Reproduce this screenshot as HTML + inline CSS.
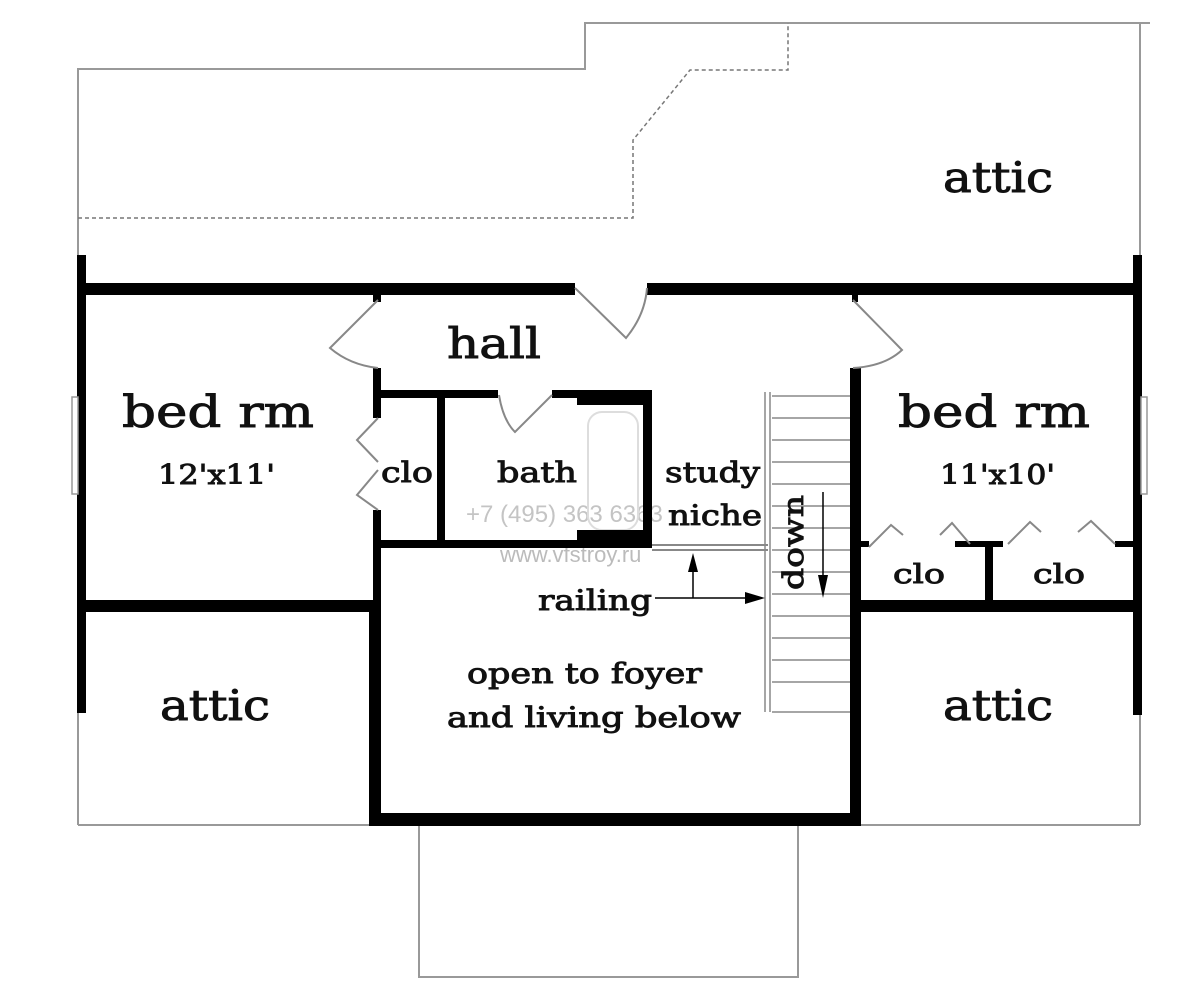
<!DOCTYPE html>
<html><head><meta charset="utf-8"><style>
html,body{margin:0;padding:0;background:#fff;width:1200px;height:993px;overflow:hidden}
svg{display:block}
text.l{font-family:"DejaVu Serif","Liberation Serif",serif;fill:#111;stroke:#111;stroke-width:0.9}
</style></head><body>
<svg width="1200" height="993" viewBox="0 0 1200 993" xmlns="http://www.w3.org/2000/svg">
<g stroke="#999" stroke-width="2" fill="none">
<polyline points="78,825 78,69 585,69 585,23 1150,23"/>
<line x1="1140" y1="23" x2="1140" y2="825"/>
<line x1="78" y1="825" x2="372" y2="825"/>
<line x1="860" y1="825" x2="1140" y2="825"/>
<polyline points="419,825 419,977 798,977 798,825"/>
</g>
<polyline points="78,218 633,218 633,140 690,70 788,70 788,23" stroke="#777" stroke-width="1.5" stroke-dasharray="4,3" fill="none"/>
<g style="font-family:'Liberation Sans',sans-serif" fill="#c4c4c4">
<text x="466" y="522" font-size="24">+7 (495) 363 6363</text>
<text x="500" y="562" font-size="22" fill="#bbb">www.vfstroy.ru</text>
</g>
<rect x="588" y="412" width="50" height="118" rx="14" fill="none" stroke="#ddd" stroke-width="2"/>
<g fill="#000">
<rect x="77" y="283" width="498" height="12"/>
<rect x="647" y="283" width="494" height="12"/>
<rect x="77" y="255" width="9" height="458"/>
<rect x="1133" y="255" width="9" height="460"/>
<rect x="77" y="600" width="304" height="12"/>
<rect x="373" y="294" width="8" height="8"/>
<rect x="373" y="368" width="8" height="50"/>
<rect x="373" y="510" width="8" height="100"/>
<rect x="369" y="605" width="12" height="221"/>
<rect x="369" y="813" width="492" height="13"/>
<rect x="850" y="368" width="11" height="458"/>
<rect x="852" y="294" width="6" height="8"/>
<rect x="855" y="600" width="287" height="12"/>
<rect x="985" y="541" width="8" height="64"/>
<rect x="855" y="541" width="14" height="6"/>
<rect x="955" y="541" width="48" height="6"/>
<rect x="1115" y="541" width="22" height="6"/>
<rect x="378" y="390" width="120" height="8"/>
<rect x="552" y="390" width="100" height="8"/>
<rect x="577" y="390" width="75" height="15"/>
<rect x="643" y="390" width="9" height="158"/>
<rect x="378" y="540" width="274" height="8"/>
<rect x="577" y="530" width="75" height="18"/>
<rect x="437" y="390" width="8" height="158"/>
</g>
<g stroke="#888" stroke-width="2" fill="none">
<path d="M378,300 L330,348 Q350,365 378,368"/>
<path d="M575,288 L626,338 Q645,315 647,288"/>
<path d="M853,300 L902,350 Q885,366 853,368"/>
<path d="M499,395 Q503,420 515,432 L552,395"/>
<path d="M378,418 L357,440 L378,462"/>
<path d="M378,470 L357,495 L378,510"/>
<path d="M869,547 L891,525 L903,535"/>
<path d="M940,535 L952,523 L970,544"/>
<path d="M1008,544 L1030,522 L1041,532"/>
<path d="M1078,532 L1091,521 L1115,544"/>
<line x1="652" y1="545" x2="768" y2="545"/>
<line x1="652" y1="550" x2="768" y2="550"/>
</g>
<g stroke="#999" stroke-width="1.5" fill="#fff">
<rect x="72" y="397" width="6" height="97"/>
<rect x="1141" y="397" width="6" height="97"/>
</g>
<g stroke="#888" stroke-width="1.5" fill="none">
<line x1="765" y1="392" x2="765" y2="712"/>
<line x1="770" y1="392" x2="770" y2="712"/>
<path d="M772,396H850M772,418H850M772,440H850M772,462H850M772,484H850M772,506H850M772,528H850M772,550H850M772,572H850M772,594H850M772,616H850M772,638H850M772,660H850M772,682H850M772,712H850"/>
<line x1="823" y1="492" x2="823" y2="590" stroke="#000"/>
</g>
<polygon points="818,575 828,575 823,598" fill="#000"/>
<g stroke="#000" stroke-width="1.5">
<line x1="655" y1="598" x2="748" y2="598"/>
<line x1="693" y1="560" x2="693" y2="598"/>
</g>
<polygon points="745,592 765,598 745,604" fill="#000"/>
<polygon points="688,572 693,553 698,572" fill="#000"/>
<g>
<text class="l" x="943" y="192" font-size="42" textLength="110" lengthAdjust="spacingAndGlyphs">attic</text>
<text class="l" x="447" y="358" font-size="42" textLength="94" lengthAdjust="spacingAndGlyphs">hall</text>
<text class="l" x="122" y="427" font-size="44" textLength="192" lengthAdjust="spacingAndGlyphs">bed rm</text>
<text class="l" x="158" y="484" font-size="27" textLength="117" lengthAdjust="spacingAndGlyphs">12'x11'</text>
<text class="l" x="898" y="427" font-size="44" textLength="192" lengthAdjust="spacingAndGlyphs">bed rm</text>
<text class="l" x="940" y="484" font-size="27" textLength="115" lengthAdjust="spacingAndGlyphs">11'x10'</text>
<text class="l" x="381" y="482" font-size="28" textLength="52" lengthAdjust="spacingAndGlyphs">clo</text>
<text class="l" x="497" y="482" font-size="28" textLength="80" lengthAdjust="spacingAndGlyphs">bath</text>
<text class="l" x="665" y="482" font-size="28" textLength="95" lengthAdjust="spacingAndGlyphs">study</text>
<text class="l" x="668" y="525" font-size="28" textLength="94" lengthAdjust="spacingAndGlyphs">niche</text>
<text class="l" x="893" y="583" font-size="26" textLength="52" lengthAdjust="spacingAndGlyphs">clo</text>
<text class="l" x="1033" y="583" font-size="26" textLength="52" lengthAdjust="spacingAndGlyphs">clo</text>
<text class="l" x="538" y="610" font-size="28" textLength="114" lengthAdjust="spacingAndGlyphs">railing</text>
<text class="l" x="467" y="683" font-size="28" textLength="235" lengthAdjust="spacingAndGlyphs">open to foyer</text>
<text class="l" x="447" y="727" font-size="28" textLength="294" lengthAdjust="spacingAndGlyphs">and living below</text>
<text class="l" x="160" y="720" font-size="42" textLength="110" lengthAdjust="spacingAndGlyphs">attic</text>
<text class="l" x="943" y="720" font-size="42" textLength="110" lengthAdjust="spacingAndGlyphs">attic</text>
<text class="l" transform="translate(803,590) rotate(-90)" font-size="28" textLength="95" lengthAdjust="spacingAndGlyphs">down</text>
</g>
</svg>
</body></html>
